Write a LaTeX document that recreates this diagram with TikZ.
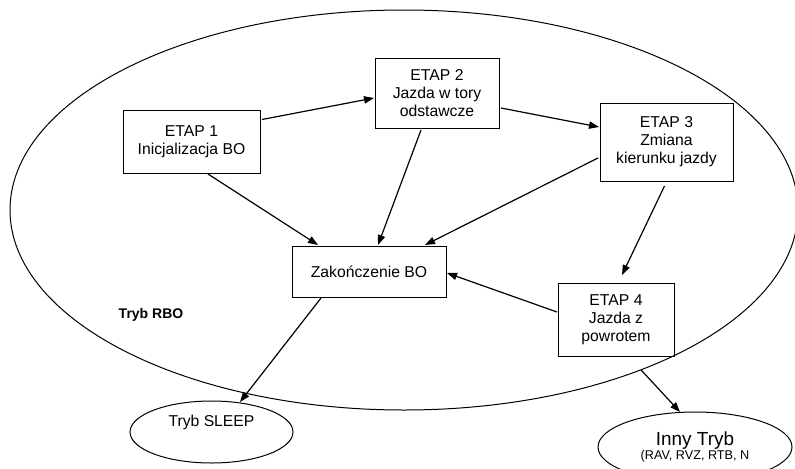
\documentclass[tikz,border=0pt]{standalone}
\usepackage{fontspec}
\setmainfont{Liberation Sans}
\usetikzlibrary{shapes.geometric,arrows.meta,calc}
\begin{document}
\begin{tikzpicture}[x=0.75pt,y=-0.75pt,
  box/.style={draw,line width=0.75pt,rectangle,inner sep=0pt,outer sep=0pt,align=center,
    font=\fontsize{11.8}{13.5}\selectfont},
  oval/.style={draw,line width=0.75pt,ellipse,inner sep=0pt,outer sep=0pt,align=center},
  conn/.style={line width=0.9pt,-{Triangle[length=7.5pt,width=5.5pt]}}]
\useasboundingbox (0,0) rectangle (795,468);
\node[oval,minimum width=591pt,minimum height=300pt] (rbo) at (404,210) {};
\node[box,minimum width=102.75pt,minimum height=47.25pt] (e1) at (191.5,141.5) {ETAP 1\\Inicjalizacja BO};
\node[box,minimum width=93pt,minimum height=52.5pt] (e2) at (437,93) {ETAP 2\\Jazda w tory\\odstawcze};
\node[box,minimum width=99.75pt,minimum height=58.5pt] (e3) at (666.5,142) {ETAP 3\\Zmiana\\kierunku jazdy};
\node[box,minimum width=115.5pt,minimum height=38.25pt] (zak) at (369,271.5) {Zako\'nczenie BO};
\node[box,minimum width=87pt,minimum height=54.75pt] (e4) at (616,319.5) {ETAP 4\\Jazda z\\powrotem};
\node[oval,minimum width=122.25pt,minimum height=46.5pt,font=\fontsize{11.8}{13.5}\selectfont] (sleep) at (211.5,432) {Tryb SLEEP\\[4pt]};
\node[oval,minimum width=145.5pt,minimum height=52.5pt] (inny) at (695,447)
  {\fontsize{14.2}{16}\selectfont Inny Tryb\\[-2pt]\fontsize{9.5}{11}\selectfont (RAV, RVZ, RTB, N};
\node[font=\fontsize{10.5}{12}\selectfont\bfseries] (rbolabel) at (151,315) {Tryb RBO};
\draw[conn] ($(e1.east)+(2,-22)$) -- ($(e2.west)+(-1,5)$);
\draw[conn] ($(e2.east)+(2,15)$) -- ($(e3.west)+(-1,-15)$);
\draw[conn] ($(e1.south)+(16.5,1)$) -- ($(zak.north)+(-51,-1)$);
\draw[conn] ($(e2.south)+(-16,2)$) -- ($(zak.north)+(9,-1)$);
\draw[conn] ($(e3.west)+(-2,16)$) -- ($(zak.north)+(56,-1)$);
\draw[conn] ($(e3.south)+(-2,5)$) -- ($(e4.north)+(6,-8)$);
\draw[conn] ($(e4.west)+(-1,-7.5)$) -- ($(zak.east)+(1,1.5)$);
\draw[conn] ($(zak.south)+(-48,1)$) -- ($(sleep.north)+(28.5,1)$);
\draw[conn] (rbo.-34.8) -- ($(inny.north)+(-15,0)$);
\end{tikzpicture}
\end{document}
